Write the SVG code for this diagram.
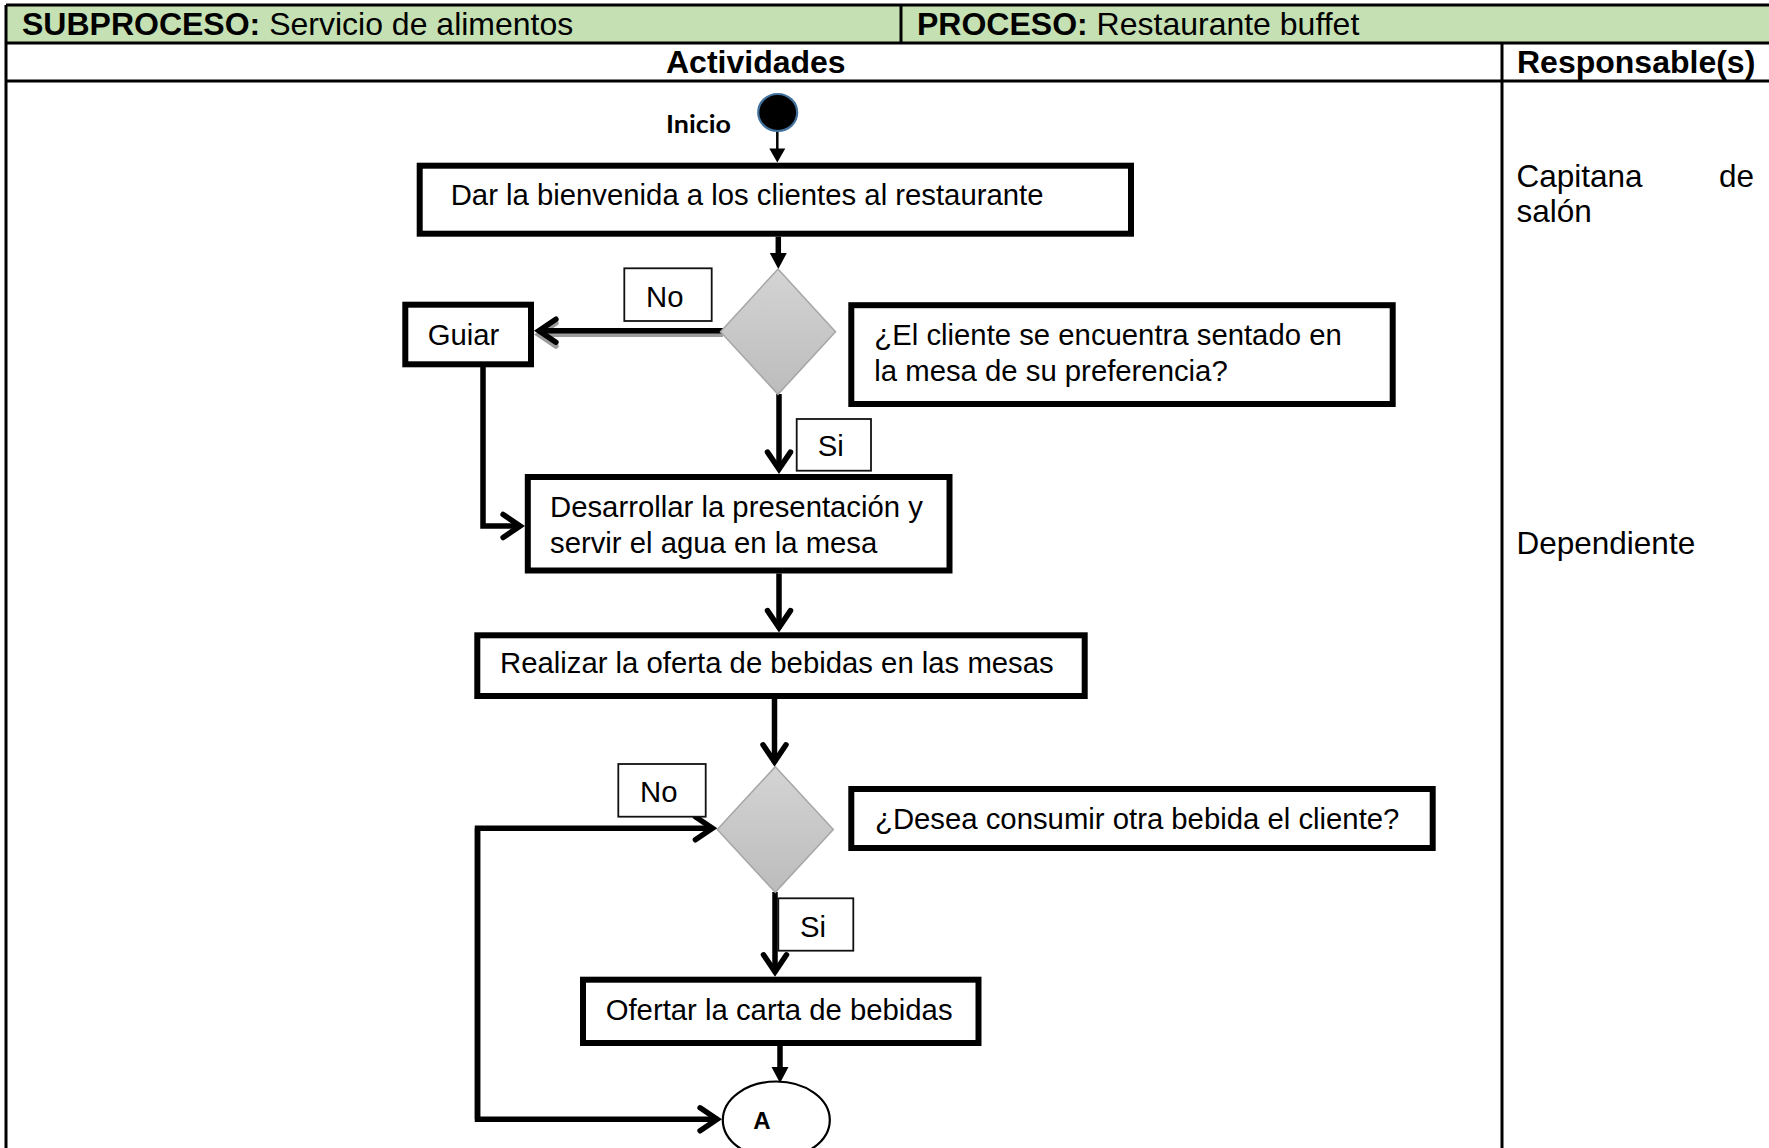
<svg xmlns="http://www.w3.org/2000/svg" width="1769" height="1148" viewBox="0 0 1769 1148">
  <style>
    .tbl { stroke: #000; stroke-width: 3; fill: none; }
    .box { fill: #fff; stroke: #000; stroke-width: 6; }
    .lbl { fill: #fff; stroke: #111; stroke-width: 1.8; }
    .dia { fill: url(#diaFill); stroke: #a6a6a6; stroke-width: 1.5; }
    .t { font-family: "Liberation Sans", Arial, sans-serif; font-size: 29.3px; fill: #000; }
    .h { font-size: 32px; }
    .r { font-size: 31.5px; }
    .b { font-weight: bold; }
    .conn { fill: none; stroke: #000; stroke-width: 5.5; stroke-linejoin: miter; }
    .thin { fill: none; stroke: #000; stroke-width: 2.5; }
    .shadow { fill: none; stroke: #9c9c9c; stroke-width: 5; }
  </style>
  <defs>
    <linearGradient id="diaFill" x1="0" y1="0" x2="0" y2="1">
      <stop offset="0" stop-color="#d4d4d4"/>
      <stop offset="1" stop-color="#bcbcbc"/>
    </linearGradient>
    <!-- open V arrowhead; outer tip sits 4px beyond the path end -->
    <marker id="chev" markerUnits="userSpaceOnUse" markerWidth="30" markerHeight="30" refX="0" refY="0" orient="auto" overflow="visible">
      <path d="M-17.9,-11.5 L-0.9,0 L-17.9,11.5" fill="none" stroke="#000" stroke-width="5.5" stroke-linejoin="miter" stroke-linecap="round"/>
    </marker>
    <marker id="chevShadow" markerUnits="userSpaceOnUse" markerWidth="30" markerHeight="30" refX="0" refY="0" orient="auto" overflow="visible">
      <path d="M-17.9,-11.5 L-0.9,0 L-17.9,11.5" fill="none" stroke="#9c9c9c" stroke-width="5.5" stroke-linejoin="miter" stroke-linecap="round"/>
    </marker>
    <!-- solid triangle arrowheads; tip sits beyond the path end -->
    <marker id="tri" markerUnits="userSpaceOnUse" markerWidth="30" markerHeight="30" refX="0" refY="0" orient="auto" overflow="visible">
      <path d="M-2,-8.5 L14,0 L-2,8.5 Z" fill="#000"/>
    </marker>
    <marker id="triSmall" markerUnits="userSpaceOnUse" markerWidth="30" markerHeight="30" refX="0" refY="0" orient="auto" overflow="visible">
      <path d="M-2,-8 L12,0 L-2,8 Z" fill="#000"/>
    </marker>
  </defs>

  <rect width="1769" height="1148" fill="#fff"/>

  <!-- table frame -->
  <g id="table">
    <rect x="6" y="5" width="1763" height="38" fill="#c5e0b3"/>
    <line class="tbl" x1="6" y1="5" x2="1769" y2="5"/>
    <line class="tbl" x1="6" y1="43" x2="1769" y2="43"/>
    <line class="tbl" x1="6" y1="81" x2="1769" y2="81"/>
    <line class="tbl" x1="6" y1="5" x2="6" y2="1148"/>
    <line class="tbl" x1="901" y1="5" x2="901" y2="43"/>
    <line class="tbl" x1="1502" y1="43" x2="1502" y2="1148"/>
    <text class="t h" x="22" y="35"><tspan class="b">SUBPROCESO:</tspan> Servicio de alimentos</text>
    <text class="t h" x="917" y="35"><tspan class="b">PROCESO:</tspan> Restaurante buffet</text>
    <text class="t h b" x="666" y="73">Actividades</text>
    <text class="t h b" x="1517" y="73">Responsable(s)</text>
  </g>

  <!-- responsible roles -->
  <g id="roles">
    <text class="t r" x="1516.5" y="186.5">Capitana</text>
    <text class="t r" x="1754" y="186.5" text-anchor="end">de</text>
    <text class="t r" x="1516.5" y="221.5">salón</text>
    <text class="t r" x="1516.5" y="554">Dependiente</text>
  </g>

  <!-- connectors -->
  <g id="connectors">
    <path class="thin" d="M777.3,131 V150.5" marker-end="url(#triSmall)"/>
    <path class="conn" d="M778.3,236.7 V255" marker-end="url(#tri)"/>
    <path class="shadow" d="M723,334.5 H538" marker-end="url(#chevShadow)"/>
    <path class="conn" d="M723,330.7 H538" marker-end="url(#chev)"/>
    <path class="conn" d="M483,367 V526 H521" marker-end="url(#chev)"/>
    <path class="conn" d="M779,394 V470" marker-end="url(#chev)"/>
    <path class="conn" d="M779,573.5 V628.5" marker-end="url(#chev)"/>
    <path class="conn" d="M774.5,699 V762.7" marker-end="url(#chev)"/>
    <path class="conn" d="M775,892 V972.7" marker-end="url(#chev)"/>
    <path class="conn" d="M477.5,1119.3 V828.3 H713.3" marker-end="url(#chev)"/>
    <path class="conn" d="M477.5,828.3 V1119.3 H718" marker-end="url(#chev)"/>
    <path class="conn" d="M780,1046 V1069" marker-end="url(#tri)"/>
  </g>

  <!-- start -->
  <g id="start">
    <ellipse cx="777.7" cy="112.5" rx="19.5" ry="18.5" fill="#000" stroke="#41719c" stroke-width="2.2"/>
    <text x="666" y="132.5" font-family="Lato, 'Open Sans', sans-serif" font-weight="bold" font-size="25" textLength="65" lengthAdjust="spacingAndGlyphs">Inicio</text>
  </g>

  <g id="welcome">
    <rect class="box" x="419.7" y="165.7" width="711.3" height="68"/>
    <text class="t" x="450.7" y="205">Dar la bienvenida a los clientes al restaurante</text>
  </g>

  <g id="decision-seated">
    <polygon class="dia" points="778,269 835.5,331.7 778,394.3 720.5,331.7"/>
  </g>

  <g id="question-seated">
    <rect class="box" x="851.3" y="305.2" width="541.4" height="98.8"/>
    <text class="t" x="874.3" y="344.5">¿El cliente se encuentra sentado en</text>
    <text class="t" x="874.3" y="380.5">la mesa de su preferencia?</text>
  </g>

  <g id="label-no-1">
    <rect class="lbl" x="624.3" y="268.3" width="87.4" height="52.7"/>
    <text class="t" x="646" y="307.3">No</text>
  </g>

  <g id="guide">
    <rect class="box" x="405.3" y="304.7" width="125.7" height="59.6"/>
    <text class="t" x="427.7" y="345">Guiar</text>
  </g>

  <g id="label-si-1">
    <rect class="lbl" x="796.7" y="419" width="74.3" height="51.7"/>
    <text class="t" x="817.7" y="456">Si</text>
  </g>

  <g id="presentation">
    <rect class="box" x="527.8" y="477" width="421.7" height="93.5"/>
    <text class="t" x="550" y="516.7">Desarrollar la presentación y</text>
    <text class="t" x="550" y="552.7">servir el agua en la mesa</text>
  </g>

  <g id="drinks-offer">
    <rect class="box" x="477.3" y="635.3" width="607.4" height="60.7"/>
    <text class="t" x="500" y="673.3">Realizar la oferta de bebidas en las mesas</text>
  </g>

  <g id="decision-drink">
    <polygon class="dia" points="775.3,766.7 833.3,829.5 775.3,892.3 717.3,829.5"/>
  </g>

  <g id="question-drink">
    <rect class="box" x="851.3" y="789" width="581.4" height="59"/>
    <text class="t" x="875" y="828.5">¿Desea consumir otra bebida el cliente?</text>
  </g>

  <g id="label-no-2">
    <rect class="lbl" x="618.3" y="764" width="87.4" height="52.7"/>
    <text class="t" x="640" y="801.7">No</text>
  </g>

  <g id="label-si-2">
    <rect class="lbl" x="778.3" y="898.3" width="75" height="52.4"/>
    <text class="t" x="800" y="936.7">Si</text>
  </g>

  <g id="drinks-menu">
    <rect class="box" x="583" y="979.7" width="395.5" height="63.3"/>
    <text class="t" x="605.7" y="1020">Ofertar la carta de bebidas</text>
  </g>

  <g id="connector-a">
    <ellipse cx="776.3" cy="1120" rx="53.5" ry="38.5" fill="#fff" stroke="#000" stroke-width="2.2"/>
    <text class="t b" x="762" y="1129" text-anchor="middle" style="font-size:24px">A</text>
  </g>
</svg>
